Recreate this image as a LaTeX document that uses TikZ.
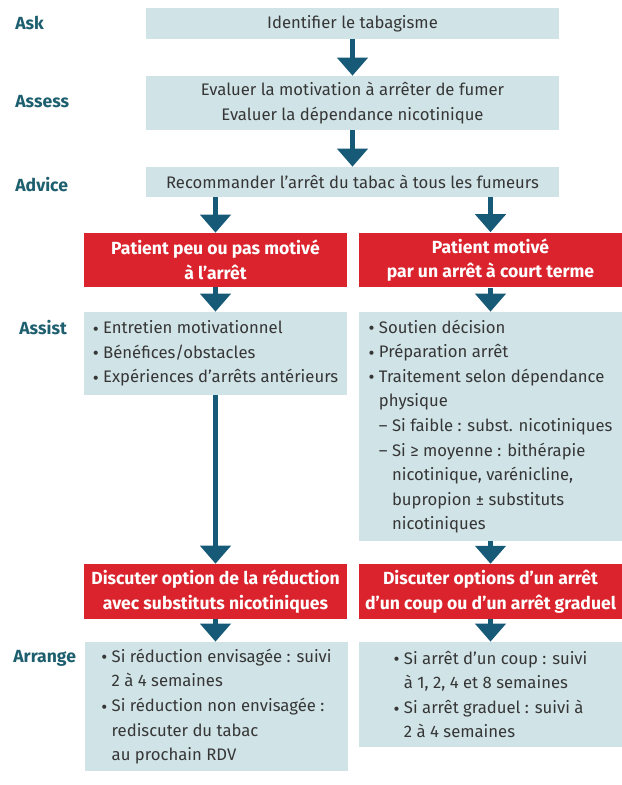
\documentclass[tikz,border=0pt]{standalone}
\usepackage{fontspec}
\setmainfont{Fira Sans}
\usepackage{tikz}
\usepackage{graphicx}
\usepackage{xcolor}
\usetikzlibrary{arrows.meta, positioning}
\definecolor{boxblue}{HTML}{D0E3E7}
\definecolor{alertred}{HTML}{DA232D}
\definecolor{arrowblue}{HTML}{165A78}
\definecolor{stageteal}{HTML}{1D5F6E}
\definecolor{textdark}{HTML}{363636}
\newcommand{\puce}{\raisebox{-0.2ex}{\scalebox{1.1}{\textbullet}}\ }
\newcommand{\retrait}{\hphantom{\puce}}

\begin{document}
\begin{tikzpicture}[
  info/.style={rectangle, fill=boxblue, text=textdark, minimum width=5.26cm, inner xsep=4pt, align=center, font=\fontsize{9.5}{14}\selectfont},
  alert/.style={rectangle, fill=alertred, text=white, minimum width=5.26cm, minimum height=1.08cm, align=center, font=\fontsize{10}{14}\selectfont\bfseries},
  stage/.style={anchor=west, inner xsep=0pt, text=stageteal, font=\fontsize{10}{14}\selectfont\bfseries},
  arrow/.style={-{Triangle[width=0.6cm, length=0.36cm]}, line width=2.6pt, draw=arrowblue}
]
  \useasboundingbox (0,0) rectangle (12.44,-15.7);

  % Ask, Assess, Advice
  \node[info, minimum width=8.26cm, minimum height=0.62cm] (ask) at (7.05,-0.47) {Identifier le tabagisme};
  \node[info, minimum width=8.26cm, minimum height=1.08cm] (assess) at (7.05,-2.06) {Evaluer la motivation à arrêter de fumer\\Evaluer la dépendance nicotinique};
  \node[info, minimum width=8.26cm, minimum height=0.60cm] (advice) at (7.05,-3.64) {Recommander l’arrêt du tabac à tous les fumeurs};

  % Motivation
  \node[alert] (lowmot) at (4.31,-5.20) {Patient peu ou pas motivé\\à l’arrêt};
  \node[alert] (highmot) at (9.81,-5.20) {Patient motivé\\par un arrêt à court terme};

  % Assist
  \node[info, align=left, minimum height=1.66cm] (assistL) at (4.31,-7.07) {\puce Entretien motivationnel\\
    \puce Bénéfices/obstacles\\
    \puce Expériences d’arrêts antérieurs};
  \node[info, align=left, minimum height=4.58cm] (assistR) at (9.81,-8.53) {\puce Soutien décision\\
    \puce Préparation arrêt\\
    \puce Traitement selon dépendance\\
    \retrait physique\\
    \retrait – Si faible : subst. nicotiniques\\
    \retrait – Si ≥ moyenne : bithérapie\\
    \retrait \hphantom{– }nicotinique, varénicline,\\
    \retrait \hphantom{– }bupropion ± substituts\\
    \retrait \hphantom{– }nicotiniques};

  % Discussion
  \node[alert] (reduc) at (4.31,-11.83) {Discuter option de la réduction\\avec substituts nicotiniques};
  \node[alert] (options) at (9.81,-11.83) {Discuter options d’un arrêt\\d’un coup ou d’un arrêt graduel};

  % Arrange
  \node[info, align=left, minimum height=2.58cm] (arrangeL) at (4.33,-14.13) {\puce Si réduction envisagée : suivi\\
    \retrait 2 à 4 semaines\\
    \puce Si réduction non envisagée :\\
    \retrait rediscuter du tabac\\
    \retrait au prochain RDV};
  \node[info, align=left, minimum height=2.10cm] (arrangeR) at (9.81,-13.89) {\puce Si arrêt d’un coup : suivi\\
    \retrait à 1, 2, 4 et 8 semaines\\
    \puce Si arrêt graduel : suivi à\\
    \retrait 2 à 4 semaines};

  % Stages
  \node[stage] (askl) at (0.3,-0.46) {Ask};
  \node[stage] (assessl) at (0.3,-2.04) {Assess};
  \node[stage] (advicel) at (0.3,-3.70) {Advice};
  \node[stage] (assistl) at (0.38,-6.56) {Assist};
  \node[stage] (arrangel) at (0.26,-13.16) {Arrange};

  % Arrows
  \draw[arrow] (ask) -- (assess);
  \draw[arrow] (assess) -- (advice);
  \draw[arrow] (advice.south -| lowmot) -- (lowmot);
  \draw[arrow] (advice.south -| highmot) -- (highmot);
  \draw[arrow] (lowmot) -- (assistL);
  \draw[arrow] (highmot) -- (assistR);
  \draw[arrow] (assistL) -- (reduc);
  \draw[arrow] (assistR) -- (options);
  \draw[arrow] (reduc) -- (reduc |- arrangeL.north);
  \draw[arrow] (options) -- (arrangeR);
\end{tikzpicture}
\end{document}
